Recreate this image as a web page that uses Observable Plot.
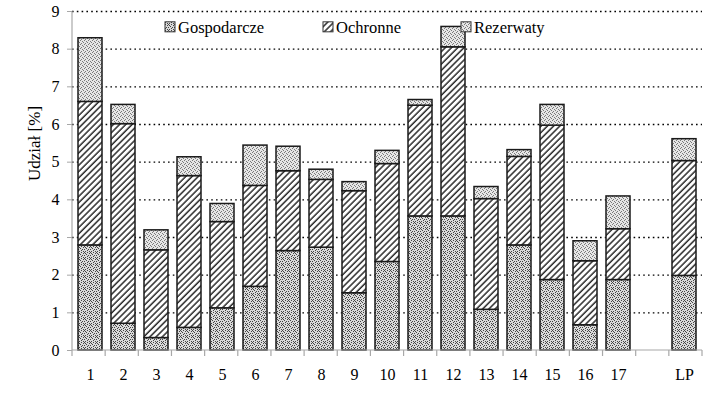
<!DOCTYPE html>
<html><head><meta charset="utf-8">
<script src="https://cdn.jsdelivr.net/npm/d3@7"></script>
<script src="https://cdn.jsdelivr.net/npm/@observablehq/plot@0.6"></script>
<style>
html,body{margin:0;padding:0;background:#fff}
svg{display:block}
#chart svg, #chart svg text{font-family:"Liberation Serif","Times New Roman",serif !important}
</style>
</head><body><div id="chart"></div>
<script>
// Categories on the x axis (" " is the empty slot before LP)
const categories = ["1","2","3","4","5","6","7","8","9","10","11","12","13","14","15","16","17"," ","LP"];
const barLabels = ["1","2","3","4","5","6","7","8","9","10","11","12","13","14","15","16","17","LP"];
const series = ["Gospodarcze","Ochronne","Rezerwaty"];
// Segment values [%] per bar (stacked: Gospodarcze bottom, Ochronne middle, Rezerwaty top)
const gospodarcze = [2.79,0.71,0.33,0.60,1.12,1.69,2.64,2.73,1.52,2.35,3.56,3.56,1.08,2.79,1.87,0.67,1.87,1.98];
const ochronne    = [3.81,5.30,2.33,4.03,2.29,2.68,2.12,1.80,2.71,2.60,2.94,4.49,2.94,2.35,4.10,1.70,1.35,3.05];
const rezerwaty   = [1.69,0.51,0.53,0.50,0.48,1.07,0.65,0.27,0.24,0.35,0.15,0.54,0.32,0.18,0.55,0.53,0.87,0.58];
const yTicks = [0,1,2,3,4,5,6,7,8,9];
const gridTicks = [1,2,3,4,5,6,7,8,9];
const yLabel = "Udział [%]";

const patternOf = {Gospodarcze: "url(#pGosp)", Ochronne: "url(#pOch)", Rezerwaty: "url(#pRez)"};
const valuesOf = {Gospodarcze: gospodarcze, Ochronne: ochronne, Rezerwaty: rezerwaty};

const rows = [];
barLabels.forEach((cat, i) => {
  series.forEach(s => rows.push({cat, series: s, value: valuesOf[s][i]}));
});

const FONT = "Liberation Serif";

function decor(index, scales, values, dims) {
  const {width, marginLeft: mL, marginRight: mR} = dims;
  const y = scales.y;
  const g = d3.create("svg:g");
  const y0 = y(0);
  const step = (width - mL - mR) / categories.length;
  g.append("line").attr("x1", mL).attr("x2", width - mR).attr("y1", y0).attr("y2", y0)
    .attr("stroke", "#a8a8a8").attr("stroke-width", 1.2);
  g.append("line").attr("x1", mL).attr("x2", mL).attr("y1", y0).attr("y2", y(9))
    .attr("stroke", "#a8a8a8").attr("stroke-width", 1.2);
  for (let i = 0; i <= categories.length; i++) {
    const xx = mL + i * step;
    g.append("line").attr("x1", xx).attr("x2", xx).attr("y1", y0).attr("y2", y0 + 6)
      .attr("stroke", "#a8a8a8").attr("stroke-width", 1.2);
  }
  // legend
  const legendX = [165, 323, 461];
  const ly = y(8.58);
  series.forEach((s, i) => {
    const x0 = legendX[i];
    g.append("rect").attr("x", x0).attr("y", ly - 5).attr("width", 10).attr("height", 10)
      .attr("fill", patternOf[s]).attr("stroke", "#333").attr("stroke-width", 1);
    g.append("text").attr("x", x0 + 13).attr("y", ly).attr("dy", "0.35em")
      .attr("text-anchor", "start")
      .attr("font-size", 16.5).attr("fill", "#000").text(s);
  });
  return g.node();
}

const plot = Plot.plot({
  width: 717, height: 393,
  marginLeft: 72, marginRight: 15, marginTop: 11, marginBottom: 43,
  style: {fontFamily: FONT, fontSize: "16px", color: "#000", background: "#fff", overflow: "visible"},
  x: {domain: categories, paddingInner: 0.28, paddingOuter: 0.14, label: null},
  y: {domain: [0, 9], label: null},
  color: {type: "identity"},
  marks: [
    Plot.ruleY(gridTicks, {stroke: "#000", strokeDasharray: "1.6,3.2", strokeWidth: 1.3}),
    Plot.barY(rows, {x: "cat", y: "value", fill: d => patternOf[d.series], stroke: "#1a1a1a", strokeWidth: 1.5}),
    Plot.axisY(yTicks, {tickSize: 5, tickPadding: 8, fontSize: 16, stroke: "#a8a8a8", fill: "#000", label: null}),
    Plot.axisX({tickSize: 0, tickPadding: 18, fontSize: 16, fill: "#000", label: null}),
    Plot.text([yLabel], {frameAnchor: "left", dx: -38, rotate: -90, fontSize: 17, fill: "#000", text: d => d}),
    decor
  ]
});

const svg = d3.select(plot);
const defs = svg.insert("defs", ":first-child");
// Gospodarcze: coarse stipple
const pg = defs.append("pattern").attr("id", "pGosp").attr("patternUnits", "userSpaceOnUse").attr("width", 6).attr("height", 6);
pg.append("rect").attr("width", 6).attr("height", 6).attr("fill", "#dadada");
[[0,0],[3,0],[1,1],[5,1],[2,2],[4,3],[0,3],[3,4],[1,5],[5,5]].forEach(([a,b]) =>
  pg.append("rect").attr("x", a).attr("y", b).attr("width", 1).attr("height", 1).attr("fill", "#444"));
// Rezerwaty: fine light stipple
const pr = defs.append("pattern").attr("id", "pRez").attr("patternUnits", "userSpaceOnUse").attr("width", 4).attr("height", 4);
pr.append("rect").attr("width", 4).attr("height", 4).attr("fill", "#e6e6e6");
[[0,0],[2,1],[1,3],[3,2]].forEach(([a,b]) =>
  pr.append("rect").attr("x", a).attr("y", b).attr("width", 1).attr("height", 1).attr("fill", "#7a7a7a"));
// Ochronne: diagonal hatch
const po = defs.append("pattern").attr("id", "pOch").attr("patternUnits", "userSpaceOnUse")
  .attr("width", 4.4).attr("height", 4.4).attr("patternTransform", "rotate(45)");
po.append("rect").attr("width", 4.4).attr("height", 4.4).attr("fill", "#fff");
po.append("line").attr("x1", 1).attr("x2", 1).attr("y1", 0).attr("y2", 4.4).attr("stroke", "#2a2a2a").attr("stroke-width", 1.5);

document.getElementById("chart").appendChild(plot);
</script>
</body></html>
